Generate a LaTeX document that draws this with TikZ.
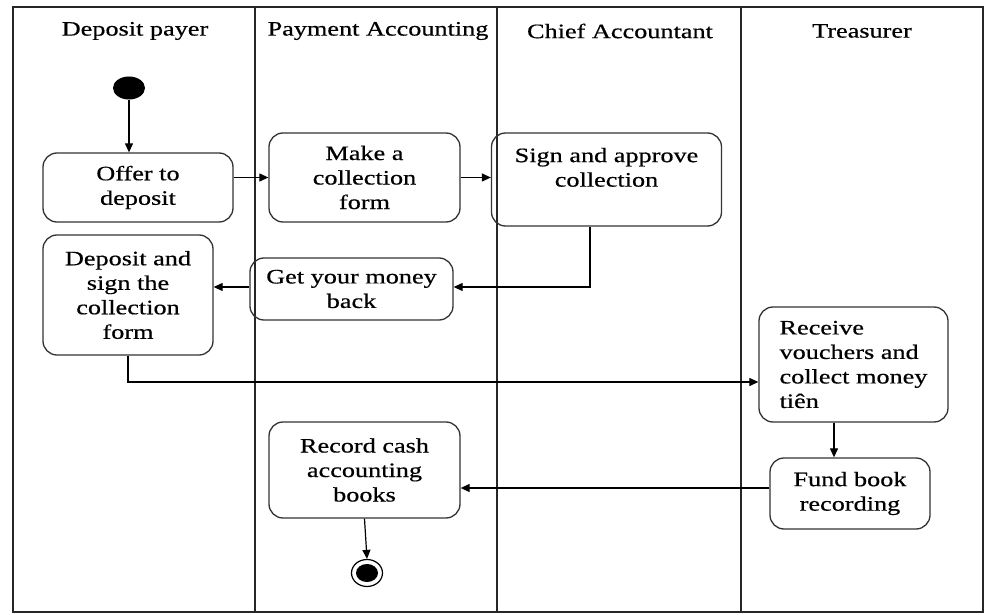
\documentclass[tikz,border=0pt]{standalone}
\usepackage{fontspec}
\setmainfont[FakeStretch=1.28,FakeBold=0.5]{Liberation Serif}
\usetikzlibrary{arrows.meta,shapes.geometric}
\begin{document}
\begin{tikzpicture}[x=1pt,y=-1pt,
  lane/.style={line width=1.4pt, draw=black!85},
  actbox/.style={draw=black!80, line width=1.3pt, rounded corners=14pt,
    align=center, inner sep=0pt, font=\fontsize{20.5}{24.5}\selectfont},
  header/.style={font=\fontsize{20.5}{24.5}\selectfont},
  flow/.style={line width=1.2pt, -{Triangle[length=9pt,width=8pt]}}
]
\useasboundingbox (0,0) rectangle (989,615);

% swimlanes
\draw[lane] (13,7) rectangle (983,612);
\draw[lane] (255,7) -- (255,612);
\draw[lane] (497,7) -- (497,612);
\draw[lane] (741,7) -- (741,612);

\node[header] (h1) at (135,31) {Deposit payer};
\node[header] (h2) at (378,31) {Payment Accounting};
\node[header] (h3) at (620,31) {Chief Accountant};
\node[header] (h4) at (862,31) {Treasurer};

% initial and final states
\node[ellipse, fill=black, minimum width=32pt, minimum height=23pt, inner sep=0pt] (start) at (129,88) {};
\node[ellipse, draw=black, line width=1.2pt, minimum width=31pt, minimum height=27pt, inner sep=0pt] (end) at (367,573) {};
\node[ellipse, fill=black, minimum width=22pt, minimum height=18pt, inner sep=0pt] (endin) at (367,573) {};

% activities
\node[actbox, minimum width=190pt, minimum height=69pt] (offer) at (138,187.5) {Offer to\\deposit};
\node[actbox, minimum width=191pt, minimum height=89pt] (make) at (364.5,177.5) {Make a\\collection\\form};
\node[actbox, minimum width=230pt, minimum height=93pt] (sign) at (606.5,179.5) {Sign and approve\\collection\\\mbox{}};
\node[actbox, minimum width=170pt, minimum height=120pt] (deposit) at (128,295) {Deposit and\\sign the\\collection\\form};
\node[actbox, minimum width=203pt, minimum height=62pt] (getback) at (351.5,289) {Get your money\\back};
\node[actbox, minimum width=189pt, minimum height=115pt, align=left] (receive) at (853.5,364.5) {Receive\\vouchers and\\collect money\\tiên};
\node[actbox, minimum width=160pt, minimum height=71pt] (fund) at (850,493.5) {Fund book\\recording};
\node[actbox, minimum width=191pt, minimum height=96pt] (record) at (364.5,470) {Record cash\\accounting\\books};

% connectors
\draw[flow] (start.south) -- (start.south |- offer.north);
\draw[flow] (offer.east |- make.west) -- (make.west);
\draw[flow] (make.east) -- (make.east -| sign.west);
\draw[flow] ([xshift=-16.5pt]sign.south) |- ([yshift=2pt]getback.east);
\draw[flow] ([yshift=2pt]getback.west) -- ([yshift=2pt]getback.west -| deposit.east);
\draw[flow] (deposit.south) |- ([yshift=-17.5pt]receive.west);
\draw[flow] ([xshift=-19.5pt]receive.south) -- ([xshift=-19.5pt]receive.south |- fund.north);
\draw[flow] ([yshift=5.5pt]fund.west) -- ([yshift=5.5pt]fund.west -| record.east);
\draw[flow] (record.south) -- (end.north);
\end{tikzpicture}
\end{document}
